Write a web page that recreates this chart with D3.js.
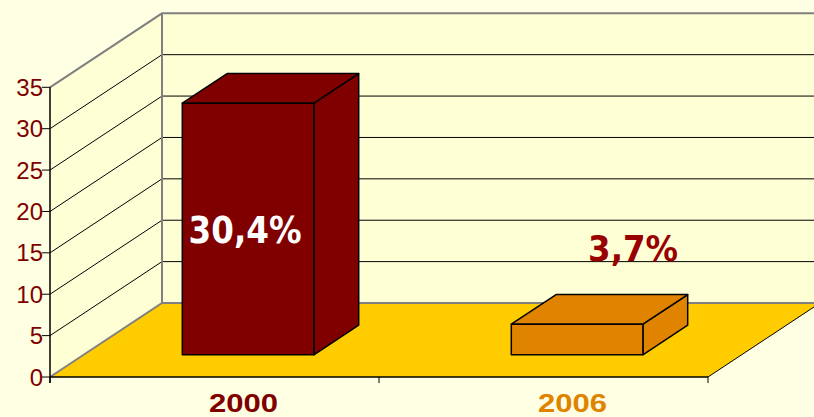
<!DOCTYPE html>
<html><head><meta charset="utf-8">
<script src="https://cdn.jsdelivr.net/npm/d3@7"></script>
<style>html,body{margin:0;padding:0;background:#FFFFE3;}svg{display:block;}</style>
</head><body>
<svg id="c" width="814" height="417"></svg>
<script>
const categories = ["2000", "2006"];
const values = [30.4, 3.7];
const valueLabels = ["30,4%", "3,7%"];
const yTicks = [0, 5, 10, 15, 20, 25, 30, 35];
const barColors = ["#800000", "#E08400"];
const catColors = ["#800000", "#E08400"];

const svg = d3.select("#c");
const W = 814, H = 417;
const DX = 112, DY = -74;           // full depth offset
const z0 = 0.3, z1 = 0.7;           // bar depth span
const y = d3.scaleLinear().domain([0, 35]).range([377, 87.3]);
const x = d3.scaleBand().domain(categories).range([50, 708]).padding(0);
const barW = x.bandwidth() * 0.4;
const off = z => [z * DX, z * DY];
const line = d3.line();

svg.append("rect").attr("width", W).attr("height", H).attr("fill", "#FFFFE3");

const x0 = x.range()[0], x1 = x.range()[1];
const yb = y(0), yt = y(35);
// back wall
svg.append("path").attr("d", line([[x0+DX, yt+DY],[W+20, yt+DY],[W+20, yb+DY],[x0+DX, yb+DY]])+"Z").attr("fill", "#FFFFD6");
// left wall
svg.append("path").attr("d", line([[x0, yt],[x0+DX, yt+DY],[x0+DX, yb+DY],[x0, yb]])+"Z").attr("fill", "#FFFFD6");
// gridlines
yTicks.filter(v => v > 0 && v < 35).forEach(v => {
  svg.append("path").attr("d", line([[x0, y(v)],[x0+DX, y(v)+DY],[W+20, y(v)+DY]]))
    .attr("fill", "none").attr("stroke", "#000").attr("stroke-width", 1);
});
// wall borders (grey)
svg.append("path").attr("d", line([[x0, yt],[x0+DX, yt+DY],[W+20, yt+DY]])).attr("fill","none").attr("stroke","#808080").attr("stroke-width",2);
svg.append("path").attr("d", line([[x0+DX, yt+DY],[x0+DX, yb+DY]])).attr("fill","none").attr("stroke","#808080").attr("stroke-width",2);
// floor
svg.append("path").attr("d", line([[x0, yb],[x1, yb],[x1+DX, yb+DY],[x0+DX, yb+DY]])+"Z").attr("fill", "#FFCC00");
svg.append("path").attr("d", line([[x0, yb],[x0+DX, yb+DY],[W+20, yb+DY]])).attr("fill","none").attr("stroke","#808080").attr("stroke-width",2);
svg.append("path").attr("d", line([[x1, yb],[x1+DX, yb+DY]])).attr("fill","none").attr("stroke","#000").attr("stroke-width",1);
svg.append("path").attr("d", line([[x0, yb],[x1, yb]])).attr("fill","none").attr("stroke","#000").attr("stroke-width",1.5);

// value axis
svg.append("line").attr("x1", x0).attr("x2", x0).attr("y1", yt).attr("y2", yb+6).attr("stroke","#000").attr("stroke-width",1.5);
yTicks.forEach(v => {
  svg.append("line").attr("x1", x0-8).attr("x2", x0).attr("y1", y(v)).attr("y2", y(v)).attr("stroke","#000").attr("stroke-width",1);
  svg.append("text").attr("x", x0-7).attr("y", y(v)).attr("dy", "0.36em").attr("text-anchor","end")
    .attr("font-family","'Liberation Sans', Arial, sans-serif").attr("font-size", 24).attr("fill","#800000").text(v);
});
// category ticks
[x0, ...categories.map(c => x(c) + x.bandwidth())].forEach(t => {
  svg.append("line").attr("x1", t).attr("x2", t).attr("y1", yb).attr("y2", yb+6).attr("stroke","#000").attr("stroke-width",1);
});
// category labels
categories.forEach((c, i) => {
  svg.append("text").attr("x", x(c) + x.bandwidth()/2 + 29).attr("y", 412).attr("text-anchor","middle")
    .attr("font-family","'Liberation Sans', Arial, sans-serif").attr("font-weight","bold").attr("font-size", 26.5)
    .attr("textLength", 69).attr("lengthAdjust","spacingAndGlyphs").attr("fill", catColors[i]).text(c);
});

// bars
categories.forEach((c, i) => {
  const cx = x(c) + x.bandwidth()/2;
  const [fx, fy] = off(z0), [bx, by] = off(z1);
  const L = cx - barW/2 + fx, R = cx + barW/2 + fx;
  const B = y(0) + fy, T = y(values[i]) + fy;
  const ddx = bx - fx, ddy = by - fy;
  const g = svg.append("g").attr("fill", barColors[i]).attr("stroke","#000").attr("stroke-width",1.5).attr("stroke-linejoin","round");
  g.append("path").attr("d", line([[R, B],[R+ddx, B+ddy],[R+ddx, T+ddy],[R, T]])+"Z");
  g.append("path").attr("d", line([[L, T],[R, T],[R+ddx, T+ddy],[L+ddx, T+ddy]])+"Z");
  g.append("path").attr("d", line([[L, B],[R, B],[R, T],[L, T]])+"Z");
});

// value labels
{
  const cx = x(categories[0]) + x.bandwidth()/2 + off(z0)[0];
  const cy = (y(0) + y(values[0]))/2 + off(z0)[1];
  svg.append("text").attr("x", cx - 3).attr("y", cy + 14).attr("text-anchor","middle")
    .attr("font-family","'DejaVu Sans', Verdana, sans-serif").attr("font-weight","bold").attr("font-size", 37)
    .attr("textLength", 113).attr("lengthAdjust","spacingAndGlyphs").attr("fill","#FFFFFF").text(valueLabels[0]);
}
{
  const cx = x(categories[1]) + x.bandwidth()/2 + off(z0)[0];
  const ty = y(values[1]) + off(z0)[1];
  svg.append("text").attr("x", cx + 56).attr("y", ty - 63).attr("text-anchor","middle")
    .attr("font-family","'DejaVu Sans', Verdana, sans-serif").attr("font-weight","bold").attr("font-size", 36)
    .attr("textLength", 90).attr("lengthAdjust","spacingAndGlyphs").attr("fill","#990000").text(valueLabels[1]);
}
</script>
</body></html>
